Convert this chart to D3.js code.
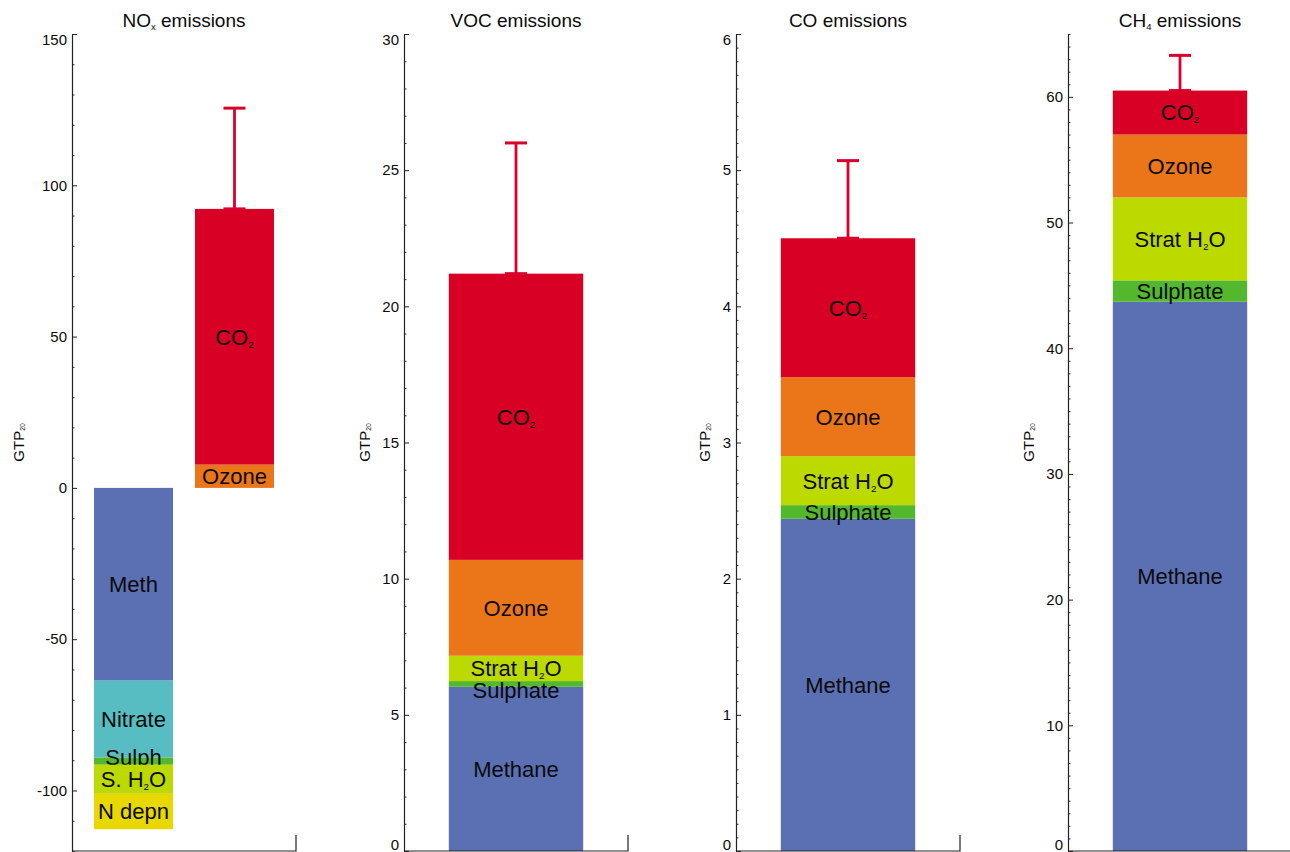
<!DOCTYPE html>
<html>
<head>
<meta charset="utf-8">
<script src="https://cdn.jsdelivr.net/npm/d3@7"></script>
<style>
  body { margin: 0; background: #fff; }
  svg { display: block; }
  text { font-family: "Liberation Sans", Arial, Helvetica, sans-serif; fill: #0a0a0a; }
</style>
</head>
<body>
<svg id="chart" width="1290" height="852"></svg>
<script>
// ---- Data: GTP20 contributions by emitted species ----
const panelTitles = ["NO_x emissions", "VOC emissions", "CO emissions", "CH_4 emissions"];
const yLabel = "GTP_20";

// NOx: cooling bar (negative) and warming bar (positive)
const noxNegLabels = ["Meth", "Nitrate", "Sulph", "S. H_2O", "N depn"];
const noxNegValues = [-63.7, -25.4, -2.4, -9.6, -11.7];
const noxPosLabels = ["Ozone", "CO_2"];
const noxPosValues = [7.7, 84.5];
const noxErrorTop = 125.5;

// VOC, CO and CH4 share the same component stack (bottom to top)
const stackLabels = ["Methane", "Sulphate", "Strat H_2O", "Ozone", "CO_2"];
const vocValues = [6.03, 0.21, 0.93, 3.52, 10.51];
const vocErrorTop = 26.0;
const coValues = [2.44, 0.10, 0.36, 0.58, 1.02];
const coErrorTop = 5.07;
const ch4Values = [43.7, 1.7, 6.6, 5.0, 3.5];
const ch4ErrorTop = 63.3;

// Axis extents and tick spacing per panel
const yDomains = [[-120, 150], [0, 30], [0, 6], [0, 65]];
const majorSteps = [50, 5, 1, 10];
const minorSteps = [10, 1, 0.1, 1];

// Component colours
const componentColors = {
  "Meth": "#5b70b3", "Methane": "#5b70b3",
  "Nitrate": "#58bdc3",
  "Sulph": "#54b82e", "Sulphate": "#54b82e",
  "S. H_2O": "#bcda00", "Strat H_2O": "#bcda00",
  "N depn": "#e9d700",
  "Ozone": "#ea7619",
  "CO_2": "#d90026"
};
const errorColor = "#d9002b";

// ---- Layout ----
const svg = d3.select("#chart");
const PANEL_X0 = 72, PANEL_STEP = 332, AXIS_W = 224;
const TOP = 34, BOTTOM = 851;
const LABEL_SIZE = 22, LABEL_CAP = 15.75, LABEL_GAP = 6;

// Text with "_x" style subscripts rendered as smaller, lowered tspans
function richText(sel, str, subScale, subDrop) {
  const parts = str.split(/_(\d+|x)/);
  parts.forEach((p, i) => {
    if (p === "") return;
    const isSub = i % 2 === 1;
    const t = sel.append("tspan").text(p);
    if (isSub) {
      t.attr("font-size", subScale + "em").attr("dy", subDrop);
    } else if (i > 0) {
      t.attr("dy", -subDrop);
    }
  });
  return sel;
}

const panels = [
  { bars: [
      { labels: noxNegLabels, values: noxNegValues },
      { labels: noxPosLabels, values: noxPosValues, errorTop: noxErrorTop }
    ], padding: 0.218 },
  { bars: [{ labels: stackLabels, values: vocValues, errorTop: vocErrorTop }], padding: 0.25 },
  { bars: [{ labels: stackLabels, values: coValues, errorTop: coErrorTop }], padding: 0.25 },
  { bars: [{ labels: stackLabels, values: ch4Values, errorTop: ch4ErrorTop }], padding: 0.25 }
];

panels.forEach((panel, pi) => {
  const ax = PANEL_X0 + pi * PANEL_STEP;
  const [d0, d1] = yDomains[pi];
  const y = d3.scaleLinear().domain([d0, d1]).range([BOTTOM, TOP]);
  const x = d3.scaleBand()
    .domain(d3.range(panel.bars.length))
    .range([0, AXIS_W])
    .padding(panel.padding);

  const g = svg.append("g").attr("transform", `translate(${ax},0)`);

  panel.bars.forEach((bar, bi) => {
    const bx = x(bi), bw = x.bandwidth();

    // Segment extents
    let base = 0;
    const segs = bar.values.map((v, si) => {
      const a = base, b = base + v;
      base = b;
      const yTop = y(Math.max(a, b)), yBot = y(Math.min(a, b));
      return { label: bar.labels[si], yTop, yBot, h: yBot - yTop,
               baseline: (yTop + yBot) / 2 + LABEL_CAP / 2 };
    });

    // Keep labels of neighbouring thin segments from colliding:
    // the label of the thinner segment gives way.
    const order = segs.slice().sort((p, q) => p.yTop - q.yTop);
    for (let i = 0; i < order.length - 1; i++) {
      const up = order[i], lo = order[i + 1];
      const overlap = (up.baseline + LABEL_GAP) - (lo.baseline - LABEL_CAP);
      if (overlap > 0) {
        if (up.h < lo.h) up.baseline -= overlap; else lo.baseline += overlap;
      }
    }

    // Each segment is followed by its label, so later segments cover earlier labels
    segs.forEach(s => {
      g.append("rect")
        .attr("x", bx).attr("y", s.yTop)
        .attr("width", bw).attr("height", s.h)
        .attr("fill", componentColors[s.label]);
      const t = g.append("text")
        .attr("x", bx + bw / 2).attr("y", s.baseline)
        .attr("text-anchor", "middle")
        .attr("font-size", LABEL_SIZE);
      richText(t, s.label, 0.45, 3);
    });

    if (bar.errorTop !== undefined) {
      const cx = bx + bw / 2;
      const yb = y(base), ye = y(bar.errorTop);
      const eg = g.append("g").attr("stroke", errorColor).attr("fill", "none");
      eg.append("line").attr("x1", cx).attr("x2", cx).attr("y1", yb).attr("y2", ye).attr("stroke-width", 2.8);
      eg.append("line").attr("x1", cx - 11).attr("x2", cx + 11).attr("y1", ye).attr("y2", ye).attr("stroke-width", 3);
      eg.append("line").attr("x1", cx - 11).attr("x2", cx + 11).attr("y1", yb).attr("y2", yb).attr("stroke-width", 3);
    }
  });

  // Y axis: inward ticks, major with labels, minor without
  const n = Math.round((d1 - d0) / minorSteps[pi]);
  const minorVals = d3.range(n + 1).map(i => +(d0 + i * minorSteps[pi]).toFixed(4));
  const first = Math.ceil(d0 / majorSteps[pi]) * majorSteps[pi];
  const majorVals = d3.range(first, d1 + 1e-9, majorSteps[pi]).map(v => +v.toFixed(4));
  const minorOnly = minorVals.filter(v => !majorVals.some(m => Math.abs(m - v) < 1e-6));

  g.append("g")
    .call(d3.axisLeft(y).tickValues(minorOnly).tickSizeInner(-2.5).tickSizeOuter(0).tickFormat(""))
    .call(s => s.select(".domain").remove())
    .call(s => s.selectAll("line").attr("stroke", "#333"));

  const yAxis = g.append("g")
    .call(d3.axisLeft(y).tickValues(majorVals).tickSizeInner(-5).tickSizeOuter(0)
      .tickPadding(5).tickFormat(d => String(d)));
  yAxis.select(".domain").attr("stroke", "#222").attr("stroke-width", 1.2);
  yAxis.selectAll("line").attr("stroke", "#222");
  yAxis.selectAll("text")
    .attr("font-size", 15)
    .attr("font-family", '"Liberation Sans", Arial, Helvetica, sans-serif')
    .attr("fill", "#0a0a0a")
    .attr("dy", d => {
      const py = y(d);
      const bl = Math.min(Math.max(py + 4.8, TOP + 10.7), BOTTOM - 2);
      return (bl - py) + "px";
    });

  // Bottom axis line with end tick
  g.append("path")
    .attr("d", `M0,${BOTTOM}H${AXIS_W}V${BOTTOM - 16}`)
    .attr("fill", "none").attr("stroke", "#222").attr("stroke-width", 1.2);

  // Title
  const title = g.append("text")
    .attr("x", AXIS_W / 2).attr("y", 27)
    .attr("text-anchor", "middle")
    .attr("font-size", 19);
  richText(title, panelTitles[pi], 0.5, 3);

  // Y label, placed left of the widest tick label
  let minX = 0;
  yAxis.selectAll("text").each(function () {
    const bb = this.getBBox();
    minX = Math.min(minX, bb.x);
  });
  const lx = minX - 18;
  const yl = g.append("text")
    .attr("transform", `translate(${lx + 5.3},${(TOP + BOTTOM) / 2}) rotate(-90)`)
    .attr("text-anchor", "middle")
    .attr("font-size", 15);
  richText(yl, yLabel, 0.45, 1);
});
</script>
</body>
</html>
